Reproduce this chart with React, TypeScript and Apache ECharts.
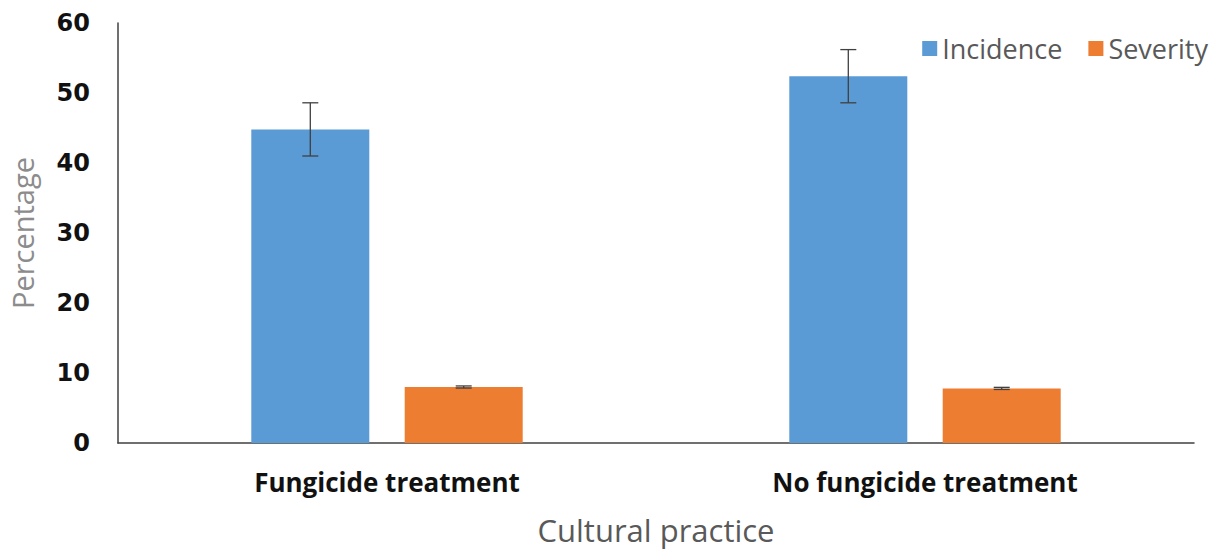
import React, { useEffect, useRef } from "react";
import * as echarts from "echarts";

const categories = ["Fungicide treatment", "No fungicide treatment"];
const seriesNames = ["Incidence", "Severity"];
const incidence = [44.8, 52.4];
const severity = [8.0, 7.8];
const incidenceErr = [3.8, 3.8];
const severityErr = [0.15, 0.15];
const yTicks = { min: 0, max: 60, interval: 10 };

const BAR_W = 118;
const BAR_GAP_PCT = 30;

export default function App() {
  const ref = useRef<HTMLDivElement>(null);
  useEffect(() => {
    if (!ref.current) return;
    const chart = echarts.init(ref.current, null, { renderer: "svg" });
    const gapPx = (BAR_W * BAR_GAP_PCT) / 100;
    const half = (BAR_W + gapPx) / 2;
    const errSeries = (name: string, vals: number[], errs: number[], sign: number) => ({
      type: "custom",
      name: name + " error",
      silent: true,
      z: 10,
      encode: { x: 0, y: 1 },
      data: vals.map((v, i) => [i, v, errs[i]]),
      renderItem: (params: any, api: any) => {
        const idx = api.value(0);
        const v = api.value(1);
        const e = api.value(2);
        const top = api.coord([idx, v + e]);
        const bot = api.coord([idx, v - e]);
        const x = top[0] + sign * half;
        const cap = 8;
        const style = { stroke: "#404040", lineWidth: 1.3 };
        return {
          type: "group",
          children: [
            { type: "line", shape: { x1: x, y1: top[1], x2: x, y2: bot[1] }, style },
            { type: "line", shape: { x1: x - cap, y1: top[1], x2: x + cap, y2: top[1] }, style },
            { type: "line", shape: { x1: x - cap, y1: bot[1], x2: x + cap, y2: bot[1] }, style },
          ],
        };
      },
    });
    chart.setOption({
      animation: false,
      backgroundColor: "#ffffff",
      legend: {
        data: seriesNames,
        right: 2,
        top: 30,
        itemWidth: 15,
        itemHeight: 15,
        itemGap: 26,
        icon: "rect",
        textStyle: { fontFamily: "Open Sans", fontSize: 27, color: "#595959" },
      },
      grid: { left: 117, right: 21, top: 23, bottom: 97, containLabel: false },
      xAxis: {
        type: "category",
        data: categories,
        name: "Cultural practice",
        nameLocation: "middle",
        nameGap: 71,
        nameTextStyle: { fontFamily: "Open Sans", fontSize: 31, color: "#595959" },
        axisLine: { show: true, lineStyle: { color: "#404040", width: 1.5 } },
        axisTick: { show: false },
        axisLabel: {
          margin: 26,
          fontFamily: "Open Sans",
          fontWeight: "bold",
          fontSize: 26,
          color: "#111111",
        },
      },
      yAxis: {
        type: "value",
        min: yTicks.min,
        max: yTicks.max,
        interval: yTicks.interval,
        name: "Percentage",
        nameLocation: "middle",
        nameGap: 81,
        nameTextStyle: { fontFamily: "Open Sans", fontSize: 29, color: "#8c8c8c" },
        axisLine: { show: true, lineStyle: { color: "#404040", width: 1.5 } },
        axisTick: { show: false },
        splitLine: { show: false },
        axisLabel: {
          margin: 28,
          fontFamily: "DejaVu Sans",
          fontWeight: "bold",
          fontSize: 24,
          color: "#111111",
        },
      },
      series: [
        {
          name: seriesNames[0],
          type: "bar",
          data: incidence,
          barWidth: BAR_W,
          barGap: BAR_GAP_PCT + "%",
          itemStyle: { color: "#5b9bd5" },
        },
        {
          name: seriesNames[1],
          type: "bar",
          data: severity,
          barWidth: BAR_W,
          barGap: BAR_GAP_PCT + "%",
          itemStyle: { color: "#ed7d31" },
        },
        errSeries(seriesNames[0], incidence, incidenceErr, -1),
        errSeries(seriesNames[1], severity, severityErr, 1),
      ],
    });
    return () => chart.dispose();
  }, []);
  return (
    <div
      ref={ref}
      style={{ position: "fixed", left: 0, top: 0, width: 1215, height: 550, background: "#fff" }}
    />
  );
}
